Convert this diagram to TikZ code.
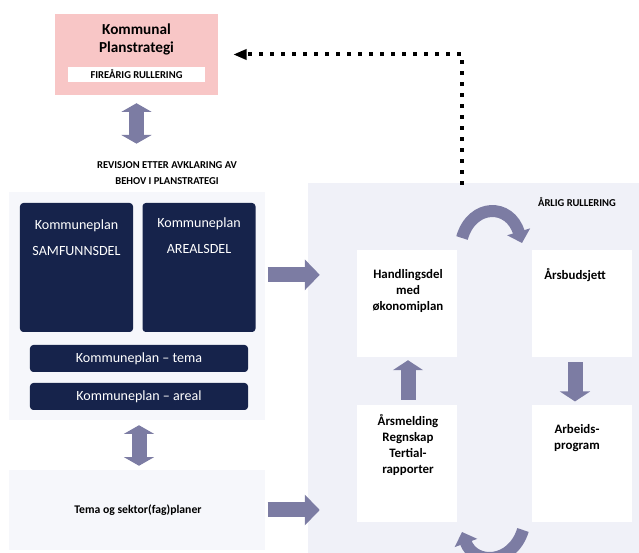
\documentclass[tikz,border=0pt]{standalone}
\usepackage{fontspec}
\setmainfont{Carlito}
\usetikzlibrary{shapes, arrows.meta, positioning, backgrounds}
\definecolor{MyPink}{HTML}{F8C6C6}
\definecolor{MyNavy}{HTML}{16234B}
\definecolor{MyArrow}{HTML}{7C7CA3}
\definecolor{MyLight}{HTML}{F6F7FB}
\definecolor{MyPanel}{HTML}{F0F1F8}

\begin{document}
\begin{tikzpicture} [x=0.3mm, y=-0.3mm,
			every node/.style={align=center,inner sep=0},
			plan/.style={fill=MyPink,minimum width=48.9mm,minimum height=24.3mm},
			bar/.style={fill=white,minimum width=41.1mm,minimum height=4.5mm,font=\bfseries\fontsize{9}{10}\selectfont},
			kplan/.style={fill=MyNavy,rounded corners=1mm,minimum width=33.9mm,minimum height=38.7mm},
			tema/.style={fill=MyNavy,rounded corners=1mm,minimum width=65.4mm,minimum height=8.1mm,text=white,font=\fontsize{12}{14}\selectfont},
			whitetxt/.style={text=white,font=\fontsize{12}{22}\selectfont},
			panel/.style={fill=MyLight},
			cell/.style={fill=white,minimum width=30mm},
			legend/.style={font=\bfseries\fontsize{11}{13.6}\selectfont},
			caps/.style={font=\bfseries\fontsize{9}{13}\selectfont},
			fatV/.style={MyArrow,line width=4.5mm,{Triangle[width=9mm,length=2.6mm]}-{Triangle[width=9mm,length=2.6mm]}},
			fatR/.style={MyArrow,line width=4.5mm,-{Triangle[width=9mm,length=4.5mm]}},
			fatU/.style={MyArrow,line width=4.5mm,-{Triangle[width=9mm,length=3mm]}},
			curl/.style={MyArrow,line width=3.6mm,-{Triangle[width=7mm,length=3.5mm]}},
			dotline/.style={line width=1.2mm,dash pattern=on 1.2mm off 2.1mm,-{Triangle[width=3mm,length=4mm]},shorten >=4.5mm}
		]
			\useasboundingbox (0,0) rectangle (639,553);
			% panels
			\node at (137,306) [panel,minimum width=76.5mm,minimum height=68.4mm] (kplanPanel) {};
			\node at (137,510) [panel,minimum width=76.5mm,minimum height=24mm] (sektorPanel) {};
			\node at (473.5,368) [fill=MyPanel,minimum width=99.3mm,minimum height=111mm] (arlig) {};
			\node at (406.5,303.5) [cell,minimum height=32.1mm] (handCell) {};
			\node at (581.5,303.5) [cell,minimum height=32.1mm] (budCell) {};
			\node at (406.5,463.5) [cell,minimum height=35.1mm] (meldCell) {};
			\node at (581.5,463.5) [cell,minimum height=35.1mm] (arbCell) {};
			% planstrategi
			\node at (136.5,54.5) [plan] (plan) {};
			\node at (136.5,39) [font=\bfseries\fontsize{13}{15.3}\selectfont] (planTitle) {Kommunal\\Planstrategi};
			\node at (136.5,74.5) [bar] (planBar) {FIREÅRIG RULLERING};
			\node at (167,173) [caps] (revisjon) {REVISJON ETTER AVKLARING AV\\BEHOV I PLANSTRATEGI};
			% kommuneplan
			\node at (76.5,267.5) [kplan] (samf) {};
			\node at (199,267.5) [kplan] (areal) {};
			\node at (76.5,238) [whitetxt] (samfTxt) {Kommuneplan\\SAMFUNNSDEL};
			\node at (199,236) [whitetxt] (arealTxt) {Kommuneplan\\AREALSDEL};
			\node at (139,358.5) [tema] (temaBar) {Kommuneplan – tema};
			\node at (139,396.5) [tema] (arealBar) {Kommuneplan – areal};
			\node at (138,510) [font=\bfseries\fontsize{10}{12}\selectfont] (sektor) {Tema og sektor(fag)planer};
			% aarlig rullering
			\node at (577,202) [caps] (rullering) {ÅRLIG RULLERING};
			\node at (408,291) [legend] (hand) {Handlingsdel\\med\\økonomiplan};
			\node at (575,275) [legend] (budsjett) {Årsbudsjett};
			\node at (408,445) [legend] (melding) {Årsmelding\\Regnskap\\Tertial-\\rapporter};
			\node at (577,438) [legend] (arbeid) {Arbeids-\\program};
			\coordinate (dotStart) at (462,185);
			\coordinate (curlA) at (462,238);
			\coordinate (curlB) at (522,243);
			\coordinate (curlC) at (523,530);
			\coordinate (curlD) at (462,532);
			% arrows
			\draw[fatV,shorten <=2.4mm,shorten >=5.4mm] (plan.south) -- (plan.south|-revisjon.north);
			\draw[fatV,shorten <=4.5mm,shorten >=1.2mm] (arealBar.south) -- (arealBar.south|-sektorPanel.north);
			\draw[fatR,shorten <=0.9mm,shorten >=-3.6mm] ([yshift=-2.2mm]kplanPanel.east|-samf.east) -- ([yshift=-2.2mm]arlig.west|-samf.east);
			\draw[fatR,shorten <=0.9mm,shorten >=-3.6mm] (sektorPanel.east) -- (arlig.west|-sektorPanel.east);
			\draw[fatU,shorten <=1.5mm,shorten >=0.9mm] (meldCell.north-|hand) -- (handCell.south-|hand);
			\draw[fatU,shorten <=1.5mm,shorten >=1mm] (budCell.south-|budsjett) -- (arbCell.north-|budsjett);
			\draw[curl] (curlA) .. controls (472,203) and (510,203) .. (curlB);
			\draw[curl] (curlC) .. controls (512,565) and (474,565) .. (curlD);
			\draw[dotline] (dotStart) |- (plan.east);
		\end{tikzpicture}
\end{document}
